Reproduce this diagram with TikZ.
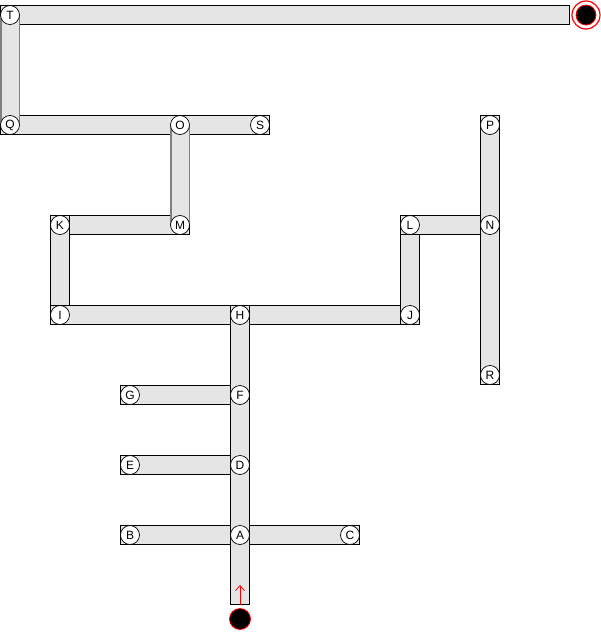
\documentclass[tikz,border=0pt]{standalone}
\usepackage{fontspec}
\setmainfont{Liberation Sans}
\usetikzlibrary{arrows.meta, calc, backgrounds}

\begin{document}
\begin{tikzpicture}[
    x=1pt, y=-1pt,
    % ── Node styles ──────────────────────────────────────────────────────
    spot/.style={
        circle, draw=black, fill=white, line width=0.7pt,
        minimum size=19pt, inner sep=0pt,
        font=\fontsize{12}{14}\selectfont
    },
    endpoint/.style={
        circle, draw=red, fill=black, line width=0.8pt,
        minimum size=21pt, inner sep=0pt
    },
    ring/.style={
        circle, draw=red, line width=1.2pt,
        minimum size=28pt, inner sep=0pt
    },
    % ── Corridor styles ──────────────────────────────────────────────────
    corridor/.style={
        draw=black, line width=1pt, double=gray!20,
        double distance=18pt, line cap=rect
    },
    walked/.style={
        draw=gray, line width=1.5pt, double=gray!20,
        double distance=17pt, line cap=butt
    },
    % ── Arrow style ──────────────────────────────────────────────────────
    arr/.style={
        -{Straight Barb[length=5pt, width=9pt]},
        line width=0.8pt, draw=red
    }
]
\useasboundingbox (0,0) rectangle (601,634);

% ═══════════════════════════════════════════════════════════════════════════
% Junctions
% ═══════════════════════════════════════════════════════════════════════════
\node[spot] (T) at (10,15) {T};
\node[spot] (Q) at (10,125) {Q};
\node[spot] (O) at (180,125) {O};
\node[spot] (S) at (260,125) {S};
\node[spot] (K) at (60,225) {K};
\node[spot] (M) at (180,225) {M};
\node[spot] (L) at (410,225) {L};
\node[spot] (N) at (490,225) {N};
\node[spot] (P) at (490,125) {P};
\node[spot] (R) at (490,375) {R};
\node[spot] (I) at (60,315) {I};
\node[spot] (H) at (240,315) {H};
\node[spot] (J) at (410,315) {J};
\node[spot] (G) at (130,395) {G};
\node[spot] (F) at (240,395) {F};
\node[spot] (E) at (130,465) {E};
\node[spot] (D) at (240,465) {D};
\node[spot] (B) at (130,535) {B};
\node[spot] (A) at (240,535) {A};
\node[spot] (C) at (350,535) {C};

% Entry and exit
\node[endpoint] (start) at (240,619) {};
\node[endpoint, minimum size=20pt] (exit) at (586,15) {};
\node[ring] (exitring) at (exit) {};

\draw[arr] ($(start)+(0,-14)$) -- ($(start)+(0,-34)$);

% ═══════════════════════════════════════════════════════════════════════════
% Corridors
% ═══════════════════════════════════════════════════════════════════════════
\begin{scope}[on background layer]
    \draw[corridor] (T.center) -- ($(exit)+(-26,0)$);
    \draw[corridor] (Q.center) -- (S.center);
    \draw[corridor] (K.center) -- (M.center);
    \draw[corridor] (K.center) -- (I.center);
    \draw[corridor] (I.center) -- (J.center);
    \draw[corridor] (J.center) -- (L.center);
    \draw[corridor] (L.center) -- (N.center);
    \draw[corridor] (P.center) -- (R.center);
    \draw[corridor] (G.center) -- (F.center);
    \draw[corridor] (E.center) -- (D.center);
    \draw[corridor] (B.center) -- (C.center);
    \draw[corridor] (H.center) -- ($(start)+(0,-24)$);
    % walked stretches
    \draw[walked] (T.center) -- (Q.center);
    \draw[walked] (O.center) -- (M.center);
\end{scope}

\end{tikzpicture}
\end{document}
